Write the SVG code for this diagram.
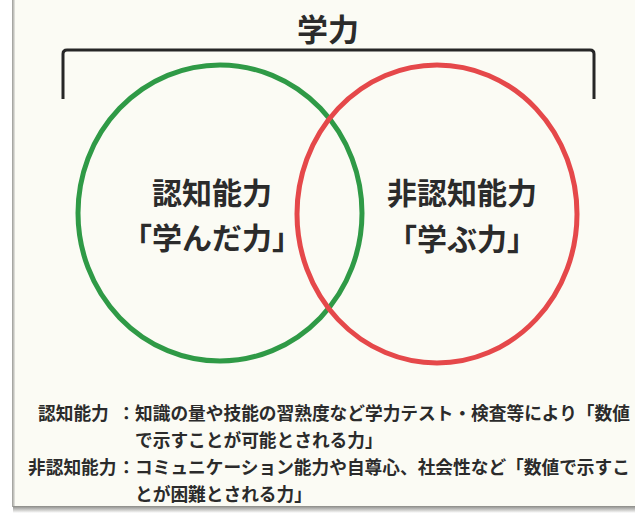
<svg xmlns="http://www.w3.org/2000/svg" width="635" height="517" viewBox="0 0 635 517">
  <defs>
    <linearGradient id="shadowB" x1="0" y1="0" x2="0" y2="1">
      <stop offset="0" stop-color="#8a8a86"/>
      <stop offset="1" stop-color="#ffffff"/>
    </linearGradient>
    <linearGradient id="shadowL" x1="0" y1="0" x2="1" y2="0">
      <stop offset="0" stop-color="#9a9a96"/>
      <stop offset="1" stop-color="#e8e8e2"/>
    </linearGradient>
  </defs>
  <style>
    .jp { font-family: "Noto Sans CJK JP", "Noto Sans", sans-serif; font-weight: 700; fill: #2b2b2b; }
    .big { font-size: 30px; text-anchor: middle; }
    .note { font-size: 17.7px; }
    .ring { fill: none; stroke-width: 5; }
  </style>
  <rect x="0" y="0" width="635" height="517" fill="#ffffff"/>
  <g id="card">
    <rect x="13" y="0" width="622" height="507" fill="#fbfbf4"/>
    <rect x="12" y="0" width="3" height="507" fill="url(#shadowL)"/>
    <rect x="13" y="506" width="622" height="7" fill="url(#shadowB)"/>
  </g>
  <g id="title">
    <text class="jp" x="328" y="41" font-size="31" text-anchor="middle">学力</text>
  </g>
  <g id="connectors">
    <path id="bracket" d="M63 99 V54 Q63 50 67 50 H590 Q594 50 594 54 V99" fill="none" stroke="#262626" stroke-width="3"/>
  </g>
  <g id="cognitive">
    <ellipse class="ring" cx="220" cy="213" rx="142" ry="148" stroke="#2f9a46"/>
    <text class="jp big" x="212" y="204">認知能力</text>
    <text class="jp big" x="212" y="249">「学んだ力」</text>
  </g>
  <g id="noncognitive">
    <ellipse class="ring" cx="437" cy="214" rx="140" ry="149" stroke="#e5484a"/>
    <text class="jp big" x="462" y="204">非認知能力</text>
    <text class="jp big" x="462" y="250">「学ぶ力」</text>
  </g>
  <g id="notes">
    <text class="jp note" x="38" y="420">認知能力</text>
    <text class="jp note" x="117.5" y="420">：</text>
    <text class="jp note" x="135" y="420">知識の量や技能の習熟度など学力テスト・検査等により「数値</text>
    <text class="jp note" x="135" y="447">で示すことが可能とされる力」</text>
    <text class="jp note" x="28" y="474">非認知能力</text>
    <text class="jp note" x="117.5" y="474">：</text>
    <text class="jp note" x="135" y="474">コミュニケーション能力や自尊心、社会性など「数値で示すこ</text>
    <text class="jp note" x="135" y="501">とが困難とされる力」</text>
  </g>
</svg>
